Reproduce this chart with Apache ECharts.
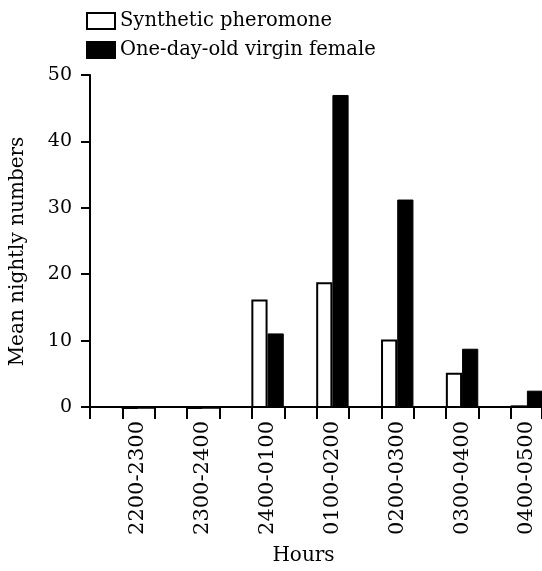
<!DOCTYPE html>
<html>
<head>
<meta charset="utf-8">
<script src="https://cdn.jsdelivr.net/npm/echarts@6/dist/echarts.min.js"></script>
<style>
  html, body { margin: 0; padding: 0; background: #fff; }
  #chart { width: 542px; height: 571px; }
</style>
</head>
<body>
<div id="chart"></div>
<script>
const categories = ['2200-2300', '2300-2400', '2400-0100', '0100-0200', '0200-0300', '0300-0400', '0400-0500'];
const syntheticPheromone = [0, 0, 16.3, 18.9, 10.3, 5.3, 0.4];
const virginFemale = [0, 0, 11.2, 47.0, 31.3, 8.9, 2.6];
const yMin = 0, yMax = 50, yStep = 10;
// bar-edge tick positions along the base line, in half-category units
const edgeTickMin = 0, edgeTickMax = 13.96, edgeTickStep = 1;

const FONT = 'DejaVu Serif';
const chart = echarts.init(document.getElementById('chart'), null, { renderer: 'canvas' });

chart.setOption({
  backgroundColor: '#ffffff',
  animation: false,
  legend: {
    orient: 'vertical',
    left: 81,
    top: 6,
    icon: 'rect',
    itemWidth: 28,
    itemHeight: 16,
    itemGap: 9,
    textStyle: { fontFamily: FONT, fontSize: 19.5, color: '#000' },
    data: ['Synthetic pheromone', 'One-day-old virgin female']
  },
  grid: [
    { left: 89.3, right: 0, top: 75, bottom: 163 },
    { left: 137.9, right: 15.1, top: 75, bottom: 163 }
  ],
  xAxis: [
    {
      gridIndex: 0,
      type: 'value',
      min: edgeTickMin,
      max: edgeTickMax,
      interval: edgeTickStep,
      axisLine: { show: true, onZero: false, lineStyle: { color: '#000', width: 2 } },
      axisTick: { show: true, length: 12, inside: false, lineStyle: { color: '#000', width: 2 } },
      axisLabel: { show: false },
      splitLine: { show: false },
      name: 'Hours',
      nameLocation: 'middle',
      nameGap: 139,
      nameTextStyle: { fontFamily: FONT, fontSize: 20, color: '#000', padding: [0, 25, 0, 0] }
    },
    {
      gridIndex: 1,
      type: 'category',
      data: categories,
      boundaryGap: false,
      axisLine: { show: false },
      axisTick: { show: false },
      axisLabel: {
        rotate: 90,
        margin: 13,
        fontFamily: FONT,
        fontSize: 21,
        color: '#000',
        interval: 0
      },
      splitLine: { show: false }
    }
  ],
  yAxis: [
    {
      gridIndex: 0,
      type: 'value',
      min: yMin,
      max: yMax,
      interval: yStep,
      axisLine: { show: true, lineStyle: { color: '#000', width: 2 } },
      axisTick: { show: true, length: 9, lineStyle: { color: '#000', width: 2 } },
      axisLabel: { fontFamily: FONT, fontSize: 19, color: '#000', margin: 18 },
      splitLine: { show: false },
      name: 'Mean nightly numbers',
      nameLocation: 'middle',
      nameGap: 62,
      nameRotate: 90,
      nameTextStyle: { fontFamily: FONT, fontSize: 20, color: '#000', padding: [0, 21, 0, 0] }
    },
    {
      gridIndex: 1,
      type: 'value',
      min: yMin,
      max: yMax,
      show: false
    }
  ],
  series: [
    {
      name: 'Synthetic pheromone',
      type: 'bar',
      xAxisIndex: 1,
      yAxisIndex: 1,
      data: syntheticPheromone,
      clip: false,
      barCategoryGap: '50%',
      barGap: '0%',
      itemStyle: { color: '#ffffff', borderColor: '#000', borderWidth: 2 }
    },
    {
      name: 'One-day-old virgin female',
      type: 'bar',
      xAxisIndex: 1,
      yAxisIndex: 1,
      data: virginFemale,
      clip: false,
      barCategoryGap: '50%',
      barGap: '0%',
      itemStyle: { color: '#000000', borderColor: '#000', borderWidth: 1 }
    }
  ]
});
</script>
</body>
</html>
